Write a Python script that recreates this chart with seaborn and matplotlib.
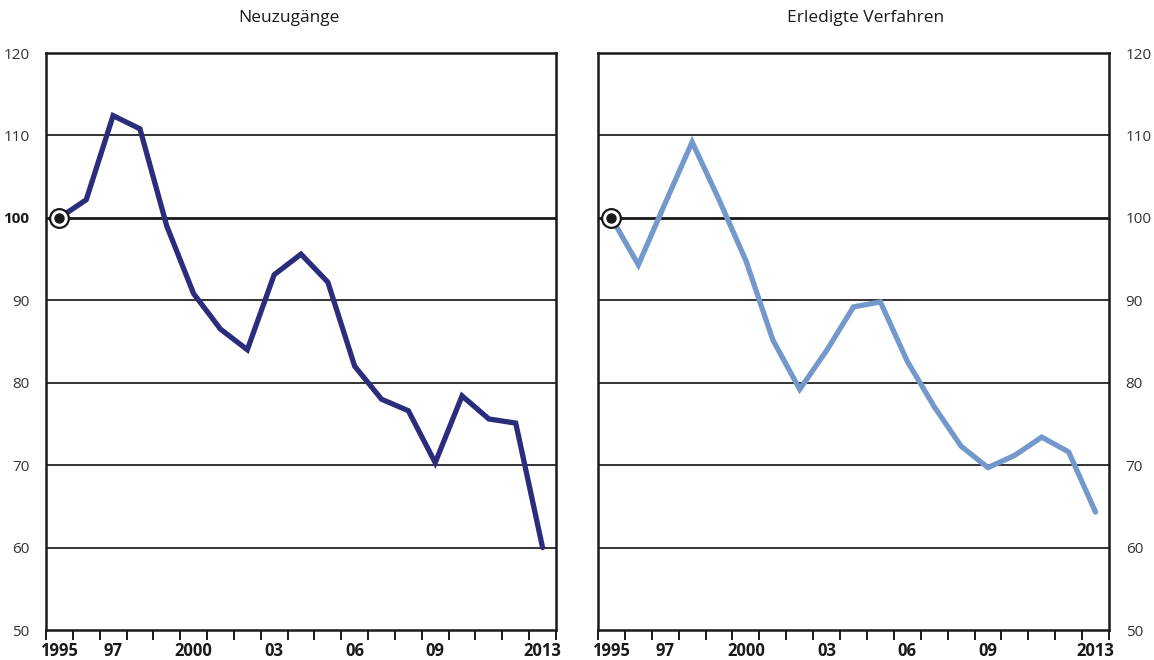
import numpy as np
import pandas as pd
import matplotlib
matplotlib.use("Agg")
import matplotlib.pyplot as plt
from matplotlib.ticker import FixedLocator
import seaborn as sns

# Data (index 1995 = 100)
years = list(range(1995, 2014))
neuzugaenge = [100.0, 102.2, 112.4, 110.8, 99.0, 90.8, 86.5, 84.0, 93.1, 95.6,
               92.2, 82.0, 78.0, 76.6, 70.3, 78.4, 75.6, 75.1, 60.0]
erledigt = [100.0, 94.3, 101.8, 109.2, 102.2, 94.8, 85.2, 79.2, 83.9, 89.2,
            89.8, 82.6, 77.1, 72.3, 69.7, 71.2, 73.4, 71.6, 64.3]
titles = ["Neuzugänge", "Erledigte Verfahren"]
colors = ["#2b2d7c", "#7399cc"]
label_years = [1995, 1997, 2000, 2003, 2006, 2009, 2013]
label_text = ["1995", "97", "2000", "03", "06", "09", "2013"]
y_ticks = [50, 60, 70, 80, 90, 100, 110, 120]

sns.set_theme(style="white")
plt.rcParams['font.family'] = ['Open Sans', 'DejaVu Sans']

fig = plt.figure(figsize=(11.54, 6.60), dpi=100)
ax_left = fig.add_axes([46/1154, 30/660, 510/1154, 577/660])
ax_right = fig.add_axes([598/1154, 30/660, 511/1154, 577/660])

df = pd.DataFrame({"Jahr": years, "Neuzugänge": neuzugaenge,
                   "Erledigte Verfahren": erledigt})

for i, (ax, title) in enumerate(zip([ax_left, ax_right], titles)):
    # horizontal reference lines
    for yv in [60, 70, 80, 90, 110]:
        ax.axhline(yv, color="#333333", lw=1.4, zorder=1)
    ax.axhline(100, color="#1a1a1a", lw=2.0, zorder=1)

    sns.lineplot(data=df, x="Jahr", y=title, ax=ax, color=colors[i],
                 lw=3.8, zorder=3, solid_joinstyle="miter")
    # start marker at 1995 = 100
    ax.plot(years[0], df[title].iloc[0], marker="o", ms=13.5, mfc="white",
            mec="#1a1a1a", mew=1.6, zorder=5, clip_on=False)
    ax.plot(years[0], df[title].iloc[0], marker="o", ms=6.5, color="#1a1a1a",
            zorder=6, clip_on=False)

    ax.set_xlim(1994.5, 2013.5)
    ax.set_ylim(50, 120)
    ax.set_xlabel("")
    ax.set_ylabel("")

    ax.xaxis.set_major_locator(FixedLocator(label_years))
    ax.set_xticklabels(label_text, fontweight="bold", fontsize=12, color="#1a1a1a")
    ax.xaxis.set_minor_locator(FixedLocator(np.arange(1994.5, 2014, 1.0)))
    ax.tick_params(axis="x", which="major", length=0, pad=9)
    ax.tick_params(axis="x", which="minor", bottom=True, direction="out",
                   length=7, width=1.4, color="#1a1a1a")

    ax.set_yticks(y_ticks)
    ax.set_yticklabels([str(v) for v in y_ticks], fontsize=11, color="#333333")
    for lab in ax.get_yticklabels():
        if lab.get_text() == "100":
            lab.set_fontweight("bold")
            lab.set_color("#1a1a1a")
    if i == 0:
        ax.tick_params(axis="y", length=0, pad=12)
    else:
        ax.yaxis.tick_right()
        ax.tick_params(axis="y", length=0, pad=12)

    for sp in ax.spines.values():
        sp.set_visible(True)
        sp.set_color("#1a1a1a")
        sp.set_linewidth(1.8)
    ax.grid(False)

fig.text(0.25, 1 - 18/660, titles[0], ha="center", va="center", fontsize=12.5, color="#1a1a1a")
fig.text(0.75, 1 - 18/660, titles[1], ha="center", va="center", fontsize=12.5, color="#1a1a1a")

plt.savefig("out.png", dpi=100)
